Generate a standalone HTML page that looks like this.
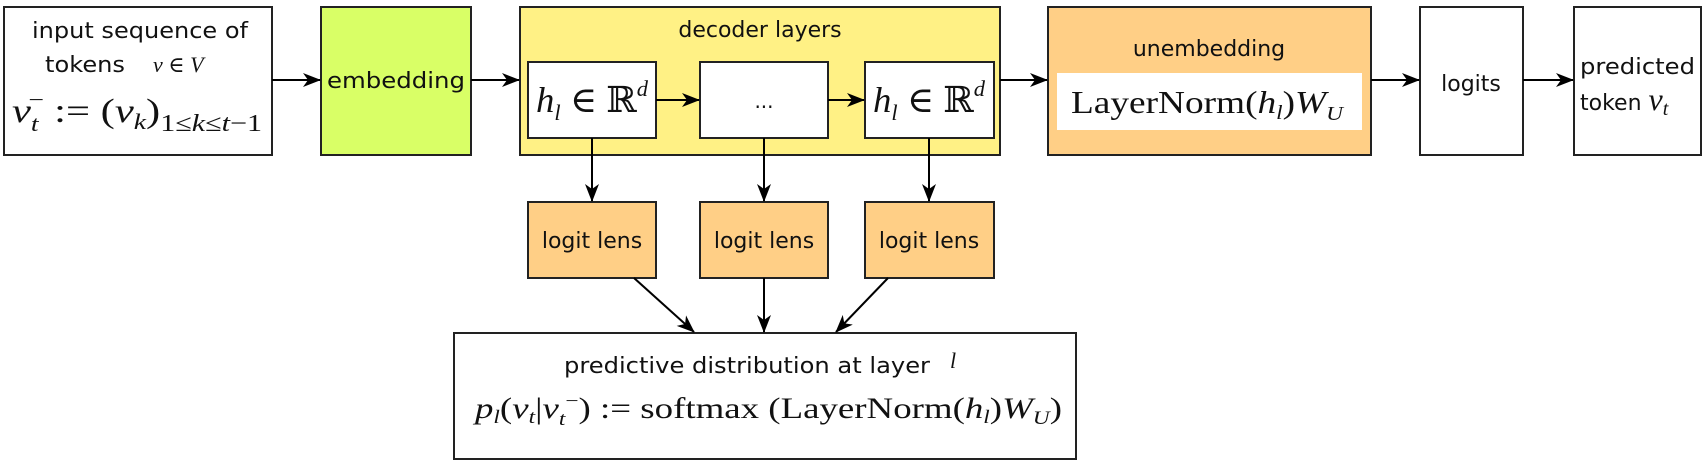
<!DOCTYPE html>
<html><head><meta charset="utf-8"><style>
html,body{margin:0;padding:0;background:#fff;}
svg{display:block;}
.s{font-family:"DejaVu Sans","Liberation Sans",sans-serif;fill:#111;}
.m{font-family:"Liberation Serif","DejaVu Serif",serif;fill:#111;}
.i{font-style:italic;}
</style></head><body>
<svg width="1703" height="468" viewBox="0 0 1703 468" xmlns="http://www.w3.org/2000/svg">
<defs>
<marker id="a" viewBox="0 0 18 14" refX="17" refY="7" markerWidth="18" markerHeight="14" markerUnits="userSpaceOnUse" orient="auto">
<path d="M0,0 L18,7 L0,14 L5,7 Z" fill="#000"/></marker>
</defs>
<g stroke="#222" stroke-width="2">
<rect x="4" y="7" width="268" height="148" fill="#fff"/>
<rect x="321" y="7" width="150" height="148" fill="#d9ff66"/>
<rect x="520" y="7" width="480" height="148" fill="#fff185"/>
<rect x="528" y="62" width="128" height="76" fill="#fff"/>
<rect x="700" y="62" width="128" height="76" fill="#fff"/>
<rect x="865" y="62" width="129" height="76" fill="#fff"/>
<rect x="1048" y="7" width="323" height="148" fill="#ffcf86"/>
<rect x="1420" y="7" width="103" height="148" fill="#fff"/>
<rect x="1574" y="7" width="127" height="148" fill="#fff"/>
<rect x="528" y="202" width="128" height="76" fill="#ffcf86"/>
<rect x="700" y="202" width="128" height="76" fill="#ffcf86"/>
<rect x="865" y="202" width="129" height="76" fill="#ffcf86"/>
<rect x="454" y="333" width="622" height="126" fill="#fff"/>
</g>
<rect x="1057" y="73" width="305" height="57" fill="#fff"/>
<g stroke="#000" stroke-width="2" marker-end="url(#a)">
<line x1="272" y1="80" x2="320" y2="80"/>
<line x1="471" y1="80" x2="519" y2="80"/>
<line x1="1000" y1="80" x2="1047" y2="80"/>
<line x1="1371" y1="80" x2="1419" y2="80"/>
<line x1="1523" y1="80" x2="1573" y2="80"/>
<line x1="656" y1="100" x2="699" y2="100"/>
<line x1="828" y1="100" x2="864" y2="100"/>
<line x1="592" y1="138" x2="592" y2="201"/>
<line x1="764" y1="138" x2="764" y2="201"/>
<line x1="929" y1="138" x2="929" y2="201"/>
<line x1="634" y1="278" x2="694" y2="332"/>
<line x1="764" y1="278" x2="764" y2="332"/>
<line x1="888" y1="278" x2="836" y2="332"/>
</g>
<text class="s" x="32" y="38" font-size="22" textLength="216" lengthAdjust="spacingAndGlyphs">input sequence of</text>
<text class="s" x="45" y="72" font-size="22" textLength="80" lengthAdjust="spacingAndGlyphs">tokens</text>
<text class="m i" x="153" y="72" font-size="22">v <tspan font-style="normal">∈</tspan> V</text>
<text class="m i" x="12" y="122" font-size="34" textLength="250" lengthAdjust="spacingAndGlyphs">v<tspan font-size="22" dy="9">t</tspan><tspan font-size="22" dx="-8" dy="-24" font-style="normal">−</tspan><tspan font-style="normal" dy="15" dx="8">:= (</tspan>v<tspan font-size="22" dy="7">k</tspan><tspan font-style="normal" dy="-7">)</tspan><tspan font-size="24" dy="9"><tspan font-style="normal">1≤</tspan>k<tspan font-style="normal">≤</tspan>t<tspan font-style="normal">−1</tspan></tspan></text>
<text class="s" x="327" y="88" font-size="22" textLength="138" lengthAdjust="spacingAndGlyphs">embedding</text>
<text class="s" x="760" y="37" font-size="22" text-anchor="middle">decoder layers</text>
<text class="m i" x="536" y="112" font-size="36" textLength="112" lengthAdjust="spacingAndGlyphs">h<tspan font-size="22" dy="8">l</tspan><tspan font-style="normal" dy="-8"> ∈ ℝ</tspan><tspan font-size="22" dy="-16">d</tspan></text>
<text class="s" x="764" y="108" font-size="20" text-anchor="middle">...</text>
<text class="m i" x="873" y="112" font-size="36" textLength="112" lengthAdjust="spacingAndGlyphs">h<tspan font-size="22" dy="8">l</tspan><tspan font-style="normal" dy="-8"> ∈ ℝ</tspan><tspan font-size="22" dy="-16">d</tspan></text>
<text class="s" x="1209" y="56" font-size="22" text-anchor="middle">unembedding</text>
<text class="m" x="1071" y="113" font-size="32" textLength="272" lengthAdjust="spacingAndGlyphs">LayerNorm(<tspan font-style="italic">h</tspan><tspan font-size="20" font-style="italic" dy="6">l</tspan><tspan dy="-6">)</tspan><tspan font-style="italic">W</tspan><tspan font-size="20" font-style="italic" dy="7">U</tspan></text>
<text class="s" x="1471" y="91" font-size="22" text-anchor="middle">logits</text>
<text class="s" x="1580" y="74" font-size="22" textLength="115" lengthAdjust="spacingAndGlyphs">predicted</text>
<text class="s" x="1580" y="110" font-size="22">token <tspan class="m i" font-size="32">v</tspan><tspan class="m i" font-size="20" dy="5">t</tspan></text>
<g class="s" font-size="22" text-anchor="middle">
<text x="592" y="248">logit lens</text>
<text x="764" y="248">logit lens</text>
<text x="929" y="248">logit lens</text>
</g>
<text class="s" x="564" y="373" font-size="22" textLength="366" lengthAdjust="spacingAndGlyphs">predictive distribution at layer</text>
<text class="m i" x="950" y="368" font-size="22">l</text>
<text class="m" x="475" y="418" font-size="30" textLength="587" lengthAdjust="spacingAndGlyphs"><tspan font-style="italic">p</tspan><tspan font-size="19" font-style="italic" dy="5">l</tspan><tspan dy="-5">(</tspan><tspan font-style="italic">v</tspan><tspan font-size="19" font-style="italic" dy="5">t</tspan><tspan dy="-5">|</tspan><tspan font-style="italic">v</tspan><tspan font-size="19" font-style="italic" dy="7">t</tspan><tspan font-size="19" dy="-18">−</tspan><tspan dy="11">) := softmax (LayerNorm(</tspan><tspan font-style="italic">h</tspan><tspan font-size="19" font-style="italic" dy="5">l</tspan><tspan dy="-5">)</tspan><tspan font-style="italic">W</tspan><tspan font-size="19" font-style="italic" dy="6">U</tspan><tspan dy="-6">)</tspan></text>
</svg>
</body></html>
